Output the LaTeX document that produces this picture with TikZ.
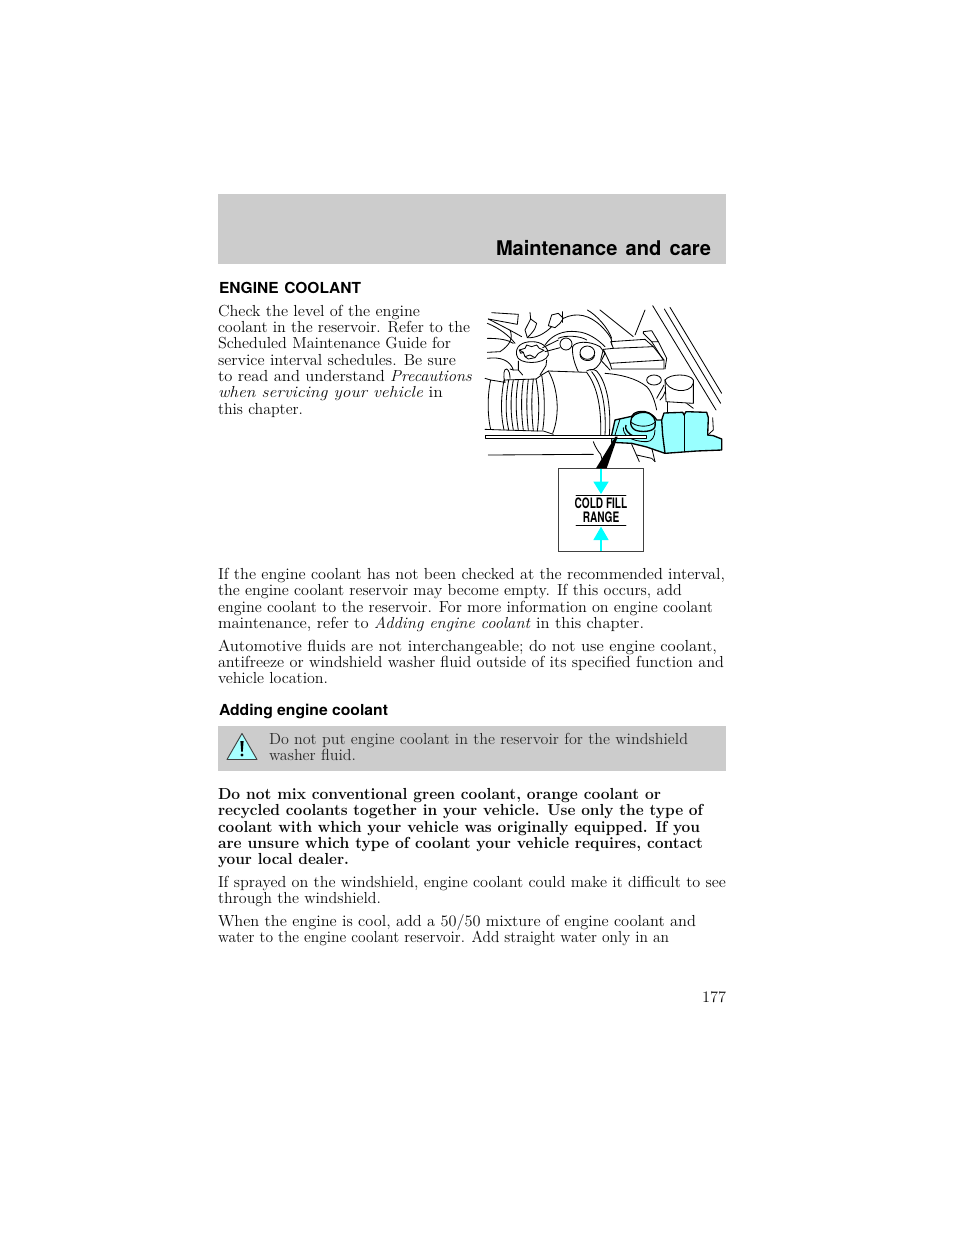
\documentclass[tikz,border=0pt]{standalone}
\usepackage{fontspec}
\usepackage{graphicx}
\setsansfont{TeX Gyre Heros}
\definecolor{bandgrey}{HTML}{CCCCCC}
\definecolor{fluid}{HTML}{99FFFF}
\definecolor{arrowcyan}{HTML}{00FFFF}
\definecolor{warnfill}{HTML}{A8FFFF}
\definecolor{ink}{HTML}{0A0A0A}
\newcommand\bodyf{\fontsize{12}{14}\selectfont\rmfamily\mdseries\upshape}
\newcommand\boldf{\fontsize{12}{14}\selectfont\rmfamily\bfseries\upshape}
\newcommand\headf{\fontsize{11.4}{14}\selectfont\sffamily\bfseries\upshape}
\newcommand\bigf{\fontsize{15.2}{18}\selectfont\sffamily\bfseries\upshape}
\newsavebox\fitb
\newlength\fitl
\newcommand\txl[6][ink]{%
  \node[pagetext] (#2) at (#3,#4) {%
    \sbox\fitb{\color{#1}#6}%
    \setlength\fitl{\wd\fitb}%
    \pgfmathsetmacro\fitr{(#5-#3)*0.75/\fitl}%
    \scalebox{\fitr}[1]{\usebox\fitb}};}
\tikzset{
  pagetext/.style={inner sep=0pt,outer sep=0pt,anchor=base west},
  ln/.style={line width=0.62pt,black,line join=round,line cap=round},
  heavy/.style={line width=1pt,black,line join=round},
  cyanline/.style={line width=1.5pt,arrowcyan},
  cyanhead/.style={fill=arrowcyan,draw=none}
}
\begin{document}
\begin{tikzpicture}[x=0.75pt,y=-0.75pt]
\useasboundingbox (0,0) rectangle (960,1242);
\fill[white] (0,0) rectangle (960,1242);
% bands
\fill[bandgrey] (218,194) rectangle (726,264);
\fill[bandgrey] (218,726) rectangle (726,771);
\txl[black]{hdr}{496}{255}{711}{\bigf Maintenance\hspace{2pt} and\hspace{2pt} care}
\txl[black]{h1}{219}{293}{361}{\headf ENGINE\hspace{1pt} COOLANT}
% left column
\txl{a1}{218}{316}{420}{\bodyf Check the level of the engine}
\txl{a2}{218}{332}{470}{\bodyf coolant in the reservoir. Refer to the}
\txl{a3}{218}{348.5}{451}{\bodyf Scheduled Maintenance Guide for}
\txl{a4}{218}{365}{456}{\bodyf service interval schedules. Be sure}
\txl{a5}{218}{381}{472}{\bodyf to read and understand \textit{Precautions}}
\txl{a6}{218}{397.5}{443}{\bodyf \textit{when servicing your vehicle} in}
\txl{a7}{218}{414}{303}{\bodyf this chapter.}
% paragraph
\txl{b1}{218}{579}{725}{\bodyf If the engine coolant has not been checked at the recommended interval,}
\txl{b2}{218}{595.5}{682}{\bodyf the engine coolant reservoir may become empty. If this occurs, add}
\txl{b3}{218}{612}{713}{\bodyf engine coolant to the reservoir. For more information on engine coolant}
\txl{b4}{218}{628}{644}{\bodyf maintenance, refer to \textit{Adding engine coolant} in this chapter.}
\txl{c1}{218}{651}{717}{\bodyf Automotive fluids are not interchangeable; do not use engine coolant,}
\txl{c2}{218}{667}{724}{\bodyf antifreeze or windshield washer fluid outside of its specified function and}
\txl{c3}{218}{683.5}{328}{\bodyf vehicle location.}
\txl[black]{h2}{219}{715}{388}{\headf Adding engine coolant}
% warning
\txl[black!85]{w1}{269}{744}{688}{\bodyf Do not put engine coolant in the reservoir for the windshield}
\txl[black!85]{w2}{269}{760}{356}{\bodyf washer fluid.}
\draw[line width=0.7pt,black!75,fill=warnfill,line join=round] (242,733.5) -- (257,759.5) -- (227,759.5) -- cycle;
\fill[black] (240.4,741) -- (243.6,741) -- (242.8,751.5) -- (241.2,751.5) -- cycle;
\fill[black] (242,755) circle (1.6);
% bold
\txl{d1}{218}{799}{661}{\boldf Do not mix conventional green coolant, orange coolant or}
\txl{d2}{218}{815.5}{703}{\boldf recycled coolants together in your vehicle. Use only the type of}
\txl{d3}{218}{832}{700}{\boldf coolant with which your vehicle was originally equipped. If you}
\txl{d4}{218}{848}{703}{\boldf are unsure which type of coolant your vehicle requires, contact}
\txl{d5}{218}{864.5}{349}{\boldf your local dealer.}
\txl{e1}{218}{887}{726}{\bodyf If sprayed on the windshield, engine coolant could make it difficult to see}
\txl{e2}{218}{903.5}{381}{\bodyf through the windshield.}
\txl{f1}{218}{926}{696}{\bodyf When the engine is cool, add a 50/50 mixture of engine coolant and}
\txl{f2}{218}{942.5}{669}{\bodyf water to the engine coolant reservoir. Add straight water only in an}
\txl{pg}{702}{1002}{726}{\bodyf 177}
% ----- engine drawing, in 3x crop coordinates -----
\begin{scope}[shift={(480,295)},x=0.25pt,y=-0.25pt]
% far right diagonals
\draw[ln] (518,32) -- (708,345);
\draw[ln] (553,42) -- (722,325);
\draw[ln] (570,37) -- (725,295);
% upper left pipes
\draw[ln] (35,53) -- (115,58) -- (112,88) -- (25,72);
\draw[ln] (25,72) .. controls (60,90) and (90,105) .. (125,125);
\draw[ln] (22,85) .. controls (60,100) and (90,125) .. (105,145);
\draw[ln] (22,130) .. controls (60,130) and (85,135) .. (100,145);
\draw[ln] (90,105) .. controls (100,130) and (90,150) .. (60,170) -- (22,172);
\draw[ln] (22,190) .. controls (60,185) and (90,195) .. (100,225);
\draw[ln] (150,52) -- (152,72) -- (170,85) -- (165,100) .. controls (160,110) and (150,120) .. (142,128);
\draw[ln] (152,72) -- (135,105) -- (142,128);
\draw[ln] (142,128) .. controls (170,130) and (195,115) .. (215,95);
\draw[ln] (205,92) -- (215,60) -- (235,55) -- (250,70) -- (240,85) -- (225,98) -- (205,92);
\draw[ln] (247,50) -- (247,82);
\draw[ln] (250,70) .. controls (290,50) and (330,60) .. (365,95) .. controls (385,115) and (400,135) .. (395,150);
\draw[ln] (322,45) .. controls (350,60) and (385,100) .. (395,130);
% second arc
\draw[ln] (195,150) .. controls (215,120) and (250,105) .. (290,110) .. controls (325,112) and (355,135) .. (375,155);
\draw[ln] (235,130) .. controls (255,120) and (300,122) .. (320,135);
% knob stem
\draw[ln] (188,158) -- (235,135);
\draw[ln] (195,170) -- (240,158);
\draw[ln] (258,147) circle (18);
% star cap cylinder
\draw[ln] (110,180) .. controls (105,155) and (125,140) .. (155,140) .. controls (185,140) and (205,155) .. (205,180);
\draw[ln] (110,180) .. controls (112,210) and (195,210) .. (205,180);
\draw[ln] (118,165) -- (135,160) -- (140,150) -- (155,155) -- (170,150) -- (178,160) -- (192,166) -- (175,175) -- (165,188) -- (150,180) -- (135,185) -- (130,172) -- cycle;
\draw[ln] (118,165) -- (122,175) -- (130,172);
\draw[ln] (135,185) -- (145,192) -- (165,188);
\draw[ln] (115,198) -- (115,225) -- (128,240);
\draw[ln] (200,195) -- (198,212) -- (180,240);
% boss
\draw[ln] (278,155) .. controls (285,140) and (325,135) .. (360,155) -- (375,175) -- (365,195) .. controls (355,215) and (345,225) .. (330,225);
\draw[ln] (278,155) .. controls (275,180) and (285,210) .. (295,230);
\draw[ln] (322,173) ellipse (22 and 20);
\draw[ln] (300,178) .. controls (300,200) and (340,205) .. (344,180);
% air box
\draw[ln] (392,140) -- (495,133) -- (520,155) -- (400,160) -- cycle;
\draw[ln] (400,160) -- (370,163) -- (390,205) -- (552,195) -- (520,155);
\draw[ln] (390,205) -- (395,222) -- (552,222) -- (552,195);
\draw[ln] (370,163) -- (362,195) -- (390,225);
\draw[ln] (490,110) -- (515,107) -- (535,140) -- (515,140) -- (490,115) -- cycle;
\draw[ln] (515,140) -- (550,195);
\draw[ln] (535,140) -- (560,190) -- (555,222);
\draw[ln] (360,45) -- (460,125);
\draw[ln] (495,45) -- (465,120);
% long line toward neck
\draw[ln] (375,235) .. controls (420,238) and (470,250) .. (500,275) .. controls (515,290) and (525,320) .. (530,345);
% neck and filler
\draw[ln] (522,255) ellipse (22 and 15);
\draw[ln] (555,255) .. controls (570,235) and (630,235) .. (640,255);
\draw[ln] (555,255) .. controls (560,290) and (630,300) .. (640,265);
\draw[ln] (555,255) -- (558,320) -- (640,325) -- (640,255);
\draw[ln] (552,270) .. controls (545,285) and (535,300) .. (530,310);
\draw[ln] (555,290) .. controls (550,305) and (545,310) .. (540,315);
\draw[ln] (563,322) -- (563,352);
\draw[ln] (620,325) -- (640,340);
% hose left end
\draw[ln] (15,250) -- (32,255) -- (75,262);
\draw[ln] (15,403) -- (70,405);
\draw[ln] (32,255) .. controls (22,300) and (22,360) .. (32,403);
% small nubs
\draw[ln] (75,262) .. controls (68,240) and (72,220) .. (80,222) .. controls (88,225) and (90,240) .. (90,250);
\draw[ln] (90,222) -- (100,225) -- (115,225);
% bellows
\draw[ln] (72,255) -- (168,252);
\draw[ln] (72,405) -- (170,408);
\draw[ln] (72,255) .. controls (62,310) and (62,360) .. (72,405);
\draw[ln] (86,255) .. controls (76,310) and (76,360) .. (86,405);
\draw[ln] (100,255) .. controls (90,310) and (92,360) .. (100,405);
\draw[ln] (115,254) .. controls (105,310) and (108,360) .. (115,406);
\draw[ln] (130,254) .. controls (122,310) and (124,360) .. (130,406);
\draw[ln] (145,253) .. controls (138,310) and (140,360) .. (145,406);
\draw[ln] (160,252) .. controls (153,310) and (155,360) .. (160,407);
\draw[ln] (168,252) .. controls (178,300) and (178,360) .. (172,408);
% big tube
\draw[ln] (168,252) -- (185,240) -- (205,228) -- (320,232);
\draw[ln] (172,408) -- (190,408) -- (220,418);
\draw[ln] (185,240) .. controls (195,300) and (195,360) .. (188,405);
\draw[ln] (205,228) .. controls (235,280) and (240,360) .. (218,415);
% collar
\draw[ln] (320,232) .. controls (345,265) and (365,320) .. (362,420);
\draw[ln] (320,228) .. controls (330,222) and (340,222) .. (350,228) .. controls (375,255) and (395,320) .. (388,420);
\draw[ln] (335,230) .. controls (360,260) and (380,320) .. (375,420);
% lower frame
\draw[ln] (25,480) -- (340,478);
\draw[ln] (340,440) .. controls (345,455) and (355,470) .. (362,478) -- (372,515);
\draw[ln] (470,480) -- (515,490) -- (525,500);
\draw[ln] (515,458) -- (525,500);
\draw[ln] (455,448) -- (478,500);
% reservoir
\filldraw[heavy,fill=fluid] (405,375) -- (455,364) .. controls (462,350) and (480,348) .. (495,350) .. controls (510,352) and (525,365) .. (530,375) -- (545,375) -- (552,354) -- (608,352) -- (612,360) -- (618,350) -- (680,352) -- (685,368) -- (683,420) -- (700,422) -- (725,432) -- (725,465) -- (650,468) -- (555,475) -- (500,456) -- (455,445) -- (395,442) -- (395,420) -- cycle;
\draw[heavy] (545,375) -- (548,420) -- (555,475);
\draw[ln] (612,360) -- (612,470);
\draw[ln] (698,368) -- (700,405) -- (683,420);
\draw[heavy] (452,380) .. controls (450,362) and (475,350) .. (495,352) .. controls (520,355) and (530,375) .. (525,395) .. controls (520,412) and (480,412) .. (465,405) .. controls (455,398) and (452,392) .. (452,380);
\draw[ln] (452,380) .. controls (465,395) and (505,400) .. (525,382);
\draw[heavy] (438,390) .. controls (432,400) and (445,420) .. (465,425);
\draw[ln] (430,398) .. controls (428,418) and (450,440) .. (500,440) .. controls (515,440) and (525,425) .. (525,405);
\draw[ln] (420,372) -- (405,420);
% horizontal bar
\filldraw[ln,fill=white,line width=0.7pt] (15,420) rectangle (500,431);
% callout box
\draw[line width=0.7pt,black!75,fill=white] (235,520) rectangle (490,770);
\fill[black] (348,520) -- (380,520) -- (413,425) -- (406,425) -- cycle;
\draw[ln] (288,602) -- (438,602);
\draw[ln] (288,690) -- (438,690);
\draw[cyanline] (363,522) -- (363,562);
\fill[cyanhead] (340,560) -- (386,560) -- (363,597) -- cycle;
\draw[cyanline] (363,767) -- (363,733);
\fill[cyanhead] (340,735) -- (386,735) -- (363,695) -- cycle;
\node[inner sep=0pt,anchor=base] (cf) at (363,640) {\scalebox{0.70}[1]{\fontsize{10.8}{12}\selectfont\sffamily\bfseries COLD FILL}};
\node[inner sep=0pt,anchor=base] (rg) at (363,682) {\scalebox{0.70}[1]{\fontsize{10.8}{12}\selectfont\sffamily\bfseries RANGE}};
\end{scope}
\end{tikzpicture}
\end{document}
